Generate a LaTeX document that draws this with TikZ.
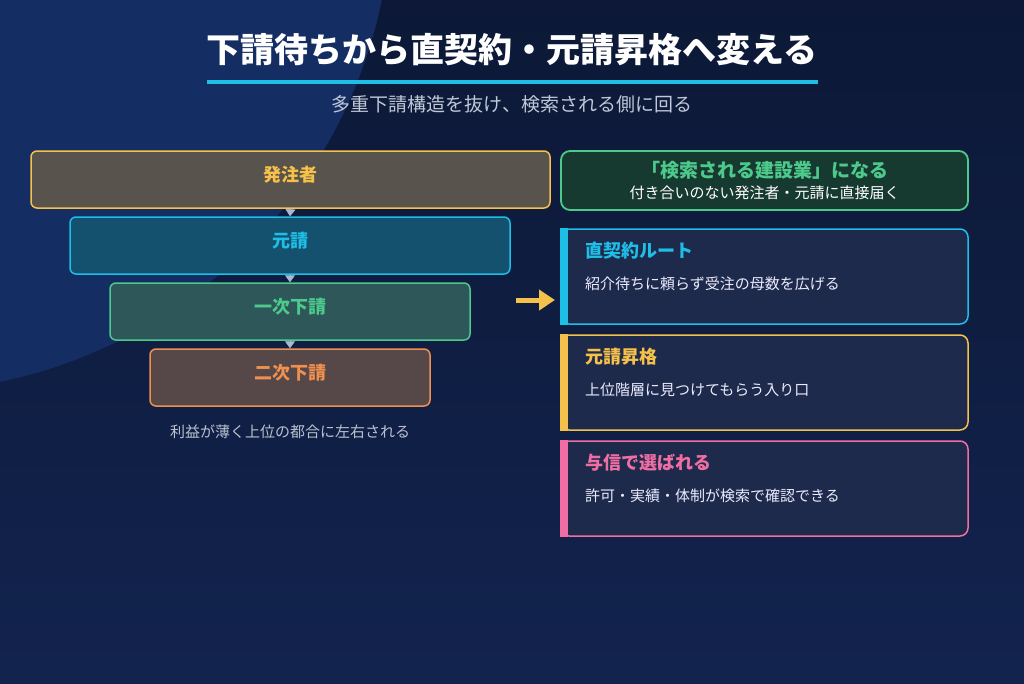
\documentclass[tikz,border=0pt]{standalone}
\usepackage{fontspec}
\setmainfont{Noto Sans CJK JP}
\usepackage{xcolor}
\usetikzlibrary{positioning,arrows.meta}

\definecolor{bgtop}{HTML}{0C1836}
\definecolor{bgbottom}{HTML}{12234E}
\definecolor{bgblob}{HTML}{142E64}
\definecolor{tyellow}{HTML}{F5C14A}
\definecolor{tcyan}{HTML}{1EBEE6}
\definecolor{tgreen}{HTML}{4DC98C}
\definecolor{torange}{HTML}{F0904E}
\definecolor{tpink}{HTML}{F06EA3}
\definecolor{fyellow}{HTML}{58534C}
\definecolor{fcyan}{HTML}{14516F}
\definecolor{fgreen}{HTML}{2D5759}
\definecolor{forange}{HTML}{564849}
\definecolor{fgoal}{HTML}{173A30}
\definecolor{fcard}{HTML}{1E2A4B}
\definecolor{softtext}{HTML}{C0C8D8}
\definecolor{marker}{HTML}{A9B8D3}

\begin{document}
\begin{tikzpicture}[x=1pt,y=-1pt,
    tier/.style 2 args={draw=#1, fill=#2, text=#1, line width=1.5pt,
        rounded corners=6pt, minimum height=57pt, inner sep=0pt,
        text height=14pt, text depth=10pt,
        font=\bfseries\fontsize{18}{20}\selectfont},
    card/.style={draw=#1, fill=fcard, line width=1.5pt, rounded corners=8pt,
        minimum width=407pt, minimum height=95pt, inner sep=0pt},
    cardtitle/.style={anchor=west, text=#1, inner sep=0pt,
        font=\bfseries\fontsize{18}{20}\selectfont},
    carddesc/.style={anchor=west, text=white!92!blue, inner sep=0pt,
        font=\fontsize{15}{17}\selectfont},
    drop/.style={-{Triangle[length=7pt,width=10pt]}, marker, line width=0.6pt}
]
    % background
    \shade[top color=bgtop, bottom color=bgbottom] (0,0) rectangle (1024,683);
    \begin{scope}
        \clip (0,0) rectangle (1024,683);
        \fill[bgblob] (-100,-100) circle (492);
    \end{scope}
    \useasboundingbox (0,0) rectangle (1024,683);

    % heading
    \node[text=white, font=\bfseries\fontsize{34}{36}\selectfont] (title) at (512,50)
        {下請待ちから直契約・元請昇格へ変える};
    \fill[tcyan] (207,80) rectangle (818,84);
    \node[text=softtext, font=\fontsize{19}{21}\selectfont] (subtitle) at (512,104)
        {多重下請構造を抜け、検索される側に回る};

    % left: the chain of tiers
    \node[tier={tyellow}{fyellow}, minimum width=519pt] (client) at (290.5,179.5) {発注者};
    \node[tier={tcyan}{fcyan}, minimum width=440pt] (prime) at (290,245.5) {元請};
    \node[tier={tgreen}{fgreen}, minimum width=360pt] (first) at (290,311.5) {一次下請};
    \node[tier={torange}{forange}, minimum width=280pt] (second) at (290,377.5) {二次下請};

    \draw[drop] (client.south) -- (prime.north);
    \draw[drop] (prime.south) -- (first.north);
    \draw[drop] (first.south) -- (second.north);

    \node[text=softtext!90!gray, font=\fontsize{15}{17}\selectfont] (loss) at (290,432)
        {利益が薄く上位の都合に左右される};

    % arrow across
    \coordinate (shifttail) at (516,300);
    \coordinate (shifthead) at (555,300);
    \draw[-{Triangle[length=16pt,width=20pt]}, tyellow, line width=5pt] (shifttail) -- (shifthead);

    % right: goal and routes
    \node[draw=tgreen, fill=fgoal, line width=1.8pt, rounded corners=9pt,
        minimum width=407pt, minimum height=59pt] (goal) at (764.5,180.5) {};
    \node[text=tgreen, font=\bfseries\fontsize{19}{21}\selectfont] (goaltitle) at (764.5,170)
        {「検索される建設業」になる};
    \node[text=white, font=\fontsize{15}{17}\selectfont] (goalsub) at (764.5,193)
        {付き合いのない発注者・元請に直接届く};

    \node[card=tcyan] (route) at (764.5,276.5) {};
    \fill[tcyan] (route.north west) rectangle ([xshift=8pt]route.south west);
    \node[cardtitle=tcyan] (routetitle) at (585,251) {直契約ルート};
    \node[carddesc] (routedesc) at (585,284) {紹介待ちに頼らず受注の母数を広げる};

    \node[card=tyellow] (promote) at (764.5,382.5) {};
    \fill[tyellow] (promote.north west) rectangle ([xshift=8pt]promote.south west);
    \node[cardtitle=tyellow] (promotetitle) at (585,357) {元請昇格};
    \node[carddesc] (promotedesc) at (585,390) {上位階層に見つけてもらう入り口};

    \node[card=tpink] (credit) at (764.5,488.5) {};
    \fill[tpink] (credit.north west) rectangle ([xshift=8pt]credit.south west);
    \node[cardtitle=tpink] (credittitle) at (585,463) {与信で選ばれる};
    \node[carddesc] (creditdesc) at (585,496) {許可・実績・体制が検索で確認できる};
\end{tikzpicture}
\end{document}
